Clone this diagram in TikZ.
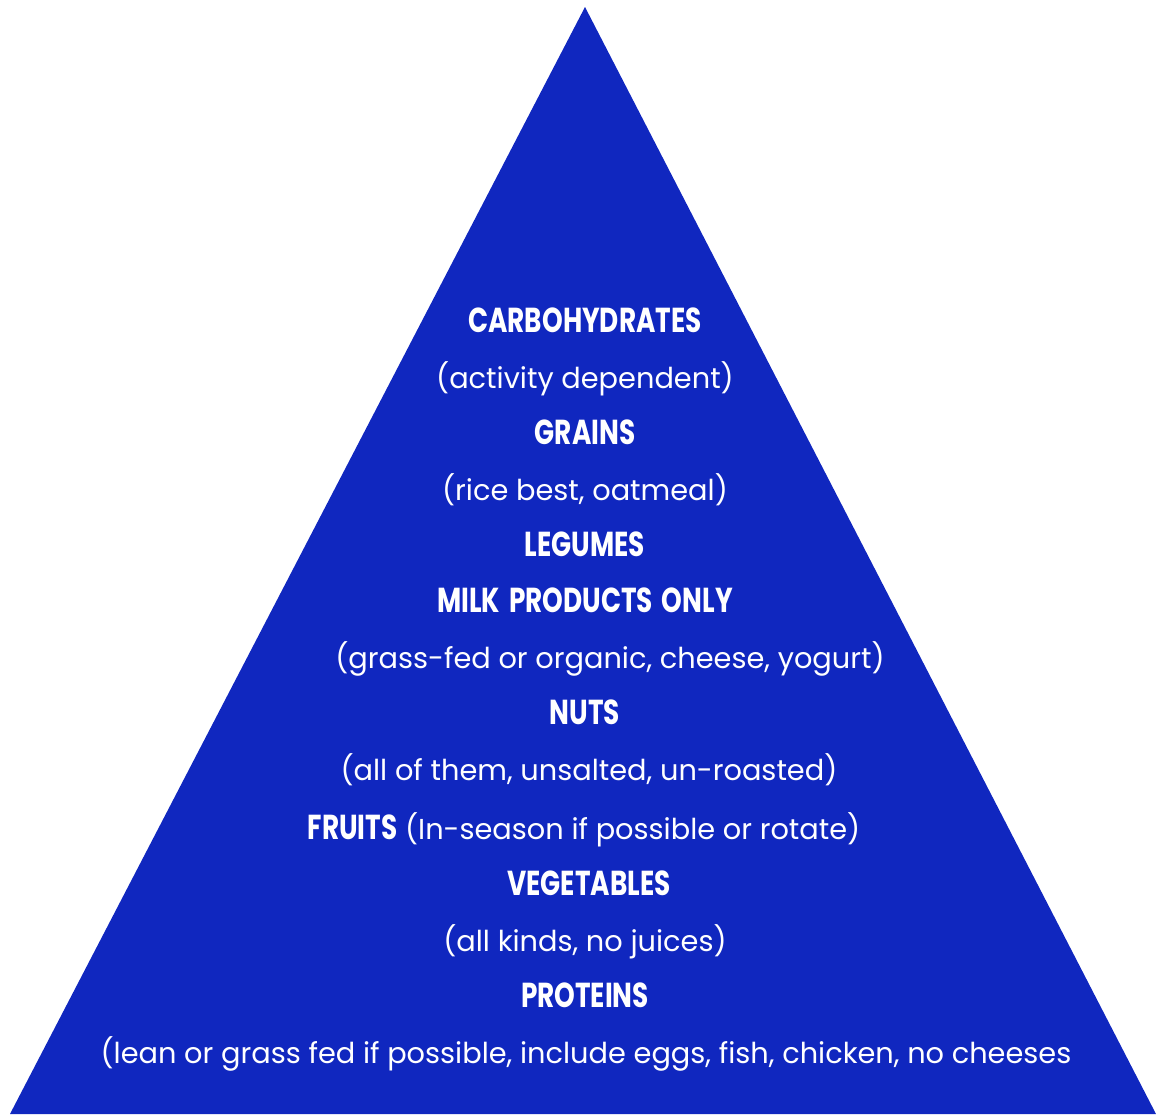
\documentclass[tikz,border=0pt]{standalone}
\usepackage{fontspec}
\setmainfont{Poppins}
\newfontfamily\headfont[FakeStretch=0.76,WordSpace=1.6]{Poppins}
\definecolor{pyrblue}{HTML}{1027BF}
\tikzset{
  head/.style={anchor=base,text=white,inner sep=0pt,font=\headfont\bfseries\fontsize{26}{30}\selectfont},
  note/.style={anchor=base,text=white,inner sep=0pt,font=\fontsize{21.6}{26}\selectfont}
}

\begin{document}
\begin{tikzpicture}[x=0.75pt,y=-0.75pt]
   \useasboundingbox (0,0) rectangle (1156,1114);
   \fill[pyrblue] (585,7) -- (1156,1114) -- (10,1114) -- cycle;
   \node (carb)     at (585, 332) [head] {CARBOHYDRATES};
   \node (carbnote) at (585, 388) [note] {(activity dependent)};
   \node (grain)    at (585, 444) [head] {GRAINS};
   \node (grainnote) at (585, 500) [note] {(rice best, oatmeal)};
   \node (legume)   at (585, 556) [head] {LEGUMES};
   \node (milk)     at (585, 612) [head] {MILK PRODUCTS ONLY};
   \node (milknote) at (610, 668) [note] {(grass-fed or organic, cheese, yogurt)};
   \node (nut)      at (585, 724) [head] {NUTS};
   \node (nutnote)  at (589, 780) [note] {(all of them, unsalted, un-roasted)};
   \node (fruit)    at (584, 839) [note] {{\headfont\bfseries\fontsize{26}{30}\selectfont FRUITS} (In-season if possible or rotate)};
   \node (veg)      at (589, 895) [head] {VEGETABLES};
   \node (vegnote)  at (585, 951) [note] {(all kinds, no juices)};
   \node (protein)  at (585, 1007) [head] {PROTEINS};
   \node (protnote) at (586, 1063) [note] {(lean or grass fed if possible, include eggs, fish, chicken, no cheeses};
\end{tikzpicture}
\end{document}
